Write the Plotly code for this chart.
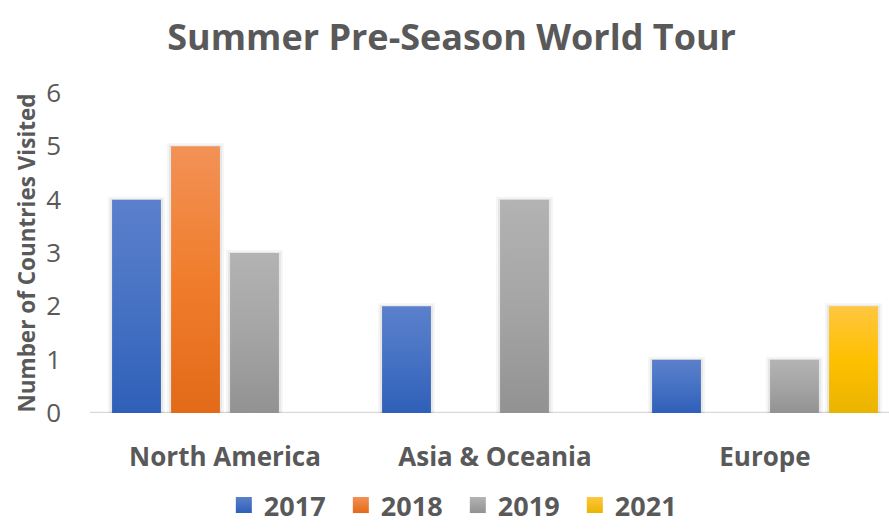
import plotly.graph_objects as go

# ---- data -------------------------------------------------------------
categories = ["North America", "Asia & Oceania", "Europe"]
years = ["2017", "2018", "2019", "2021"]
visits_2017 = [4, 2, 1]
visits_2018 = [5, 0, 0]
visits_2019 = [3, 4, 1]
visits_2021 = [0, 0, 2]
y_ticks = [0, 1, 2, 3, 4, 5, 6]

series = {
    "2017": visits_2017,
    "2018": visits_2018,
    "2019": visits_2019,
    "2021": visits_2021,
}

# gradient colours per year: (top, middle, bottom)
palette = {
    "2017": ("#5b80cb", "#4672c4", "#2f5fb8"),
    "2018": ("#f29157", "#f07d2c", "#e26a18"),
    "2019": ("#b3b3b3", "#a5a5a5", "#929292"),
    "2021": ("#ffc640", "#ffc000", "#e9b400"),
}

TEXT = "#595959"
FONT = "Open Sans"

# ---- bar geometry (category units) -------------------------------------
group_width = 0.874
slot = group_width / len(years)
bar_width = 0.181
px_x = 1 / 270.0   # one pixel in x data units
px_y = 1 / 53.33   # one pixel in y data units

fig = go.Figure()

# soft shadows first, so bars sit on top
for i, year in enumerate(years):
    for c, value in enumerate(series[year]):
        if value <= 0:
            continue
        xc = c - group_width / 2 + (i + 0.5) * slot
        for grow, alpha in ((4, 0.04), (2, 0.06)):
            x0 = xc - bar_width / 2 - grow * px_x
            x1 = xc + bar_width / 2 + grow * px_x
            y0 = -grow * px_y
            y1 = value + (grow - 1) * px_y
            fig.add_trace(go.Scatter(
                x=[x0, x1, x1, x0, x0], y=[y0, y0, y1, y1, y0],
                mode="lines", fill="toself",
                fillcolor=f"rgba(0,0,0,{alpha})",
                line=dict(width=0), hoverinfo="skip", showlegend=False,
                cliponaxis=False,
            ))

# gradient bars
for i, year in enumerate(years):
    top, mid, bottom = palette[year]
    for c, value in enumerate(series[year]):
        if value <= 0:
            continue
        xc = c - group_width / 2 + (i + 0.5) * slot
        x0, x1 = xc - bar_width / 2, xc + bar_width / 2
        fig.add_trace(go.Scatter(
            x=[x0, x1, x1, x0, x0], y=[0, 0, value, value, 0],
            mode="lines", fill="toself",
            fillgradient=dict(type="vertical",
                              colorscale=[[0, bottom], [0.5, mid], [1, top]]),
            line=dict(width=0), name=year, legendgroup=year,
            showlegend=False,
            hovertemplate=f"{year}<br>{categories[c]}: {value}<extra></extra>",
        ))

# legend entries
for year in years:
    top, mid, bottom = palette[year]
    fig.add_trace(go.Scatter(
        x=[None], y=[None], mode="markers", name=year, legendgroup=year,
        marker=dict(symbol="square", size=16, color=top,
                    gradient=dict(type="vertical", color=bottom),
                    line=dict(width=0)),
    ))

fig.update_layout(
    width=889, height=530,
    margin=dict(l=90, r=0, t=93, b=117),
    paper_bgcolor="white", plot_bgcolor="white",
    font=dict(family=FONT, color=TEXT),
    title=dict(text="Summer Pre-Season World Tour",
               x=0.508, xref="container", xanchor="center",
               y=0.93, yref="container", yanchor="middle",
               font=dict(size=36, color=TEXT, family=FONT, weight="bold")),
    showlegend=True,
    legend=dict(orientation="h", xref="container", x=0.515, xanchor="center",
                yref="container", y=-0.014, yanchor="bottom",
                font=dict(size=27, color=TEXT, family=FONT, weight="bold"),
                itemsizing="trace", entrywidth=72, entrywidthmode="pixels",
                traceorder="normal", borderwidth=0),
    xaxis=dict(
        range=[-0.5, -0.5 + 799 / 270], tickmode="array",
        tickvals=list(range(len(categories))), ticktext=categories,
        showgrid=False, zeroline=False, showline=False, ticks="",
        ticklabelstandoff=26,
        tickfont=dict(size=26, color=TEXT, family=FONT, weight="bold"),
    ),
    yaxis=dict(
        range=[0, 6], tickmode="array", tickvals=y_ticks,
        showgrid=False, zeroline=False, showline=False, ticks="",
        ticklabelstandoff=28,
        tickfont=dict(size=26, color=TEXT, family=FONT),
        title=dict(text="Number of Countries Visited",
                   font=dict(size=22.5, color=TEXT, family=FONT, weight="bold"),
                   standoff=4),
    ),
    shapes=[dict(type="line", xref="paper", yref="y", x0=0, x1=1, y0=0, y1=0,
                 line=dict(color="#d9d9d9", width=2.5), layer="below")],
)

fig.write_html("out.html")
